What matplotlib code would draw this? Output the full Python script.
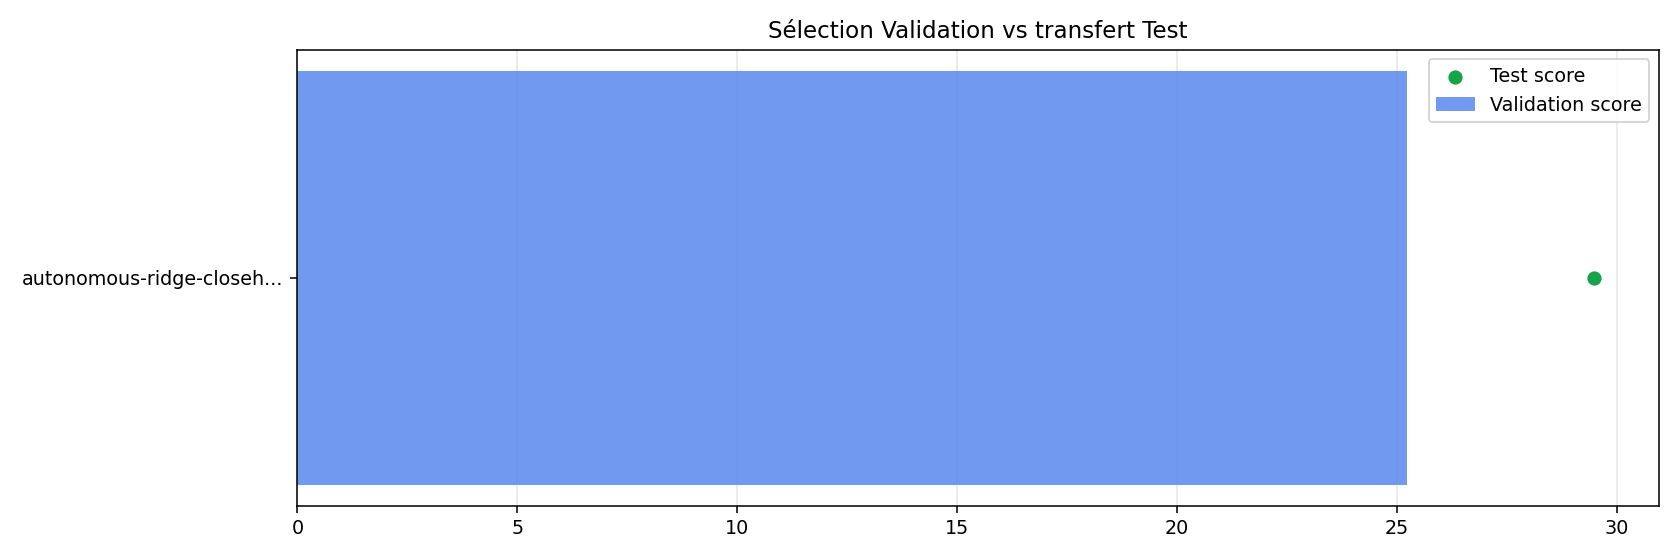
import matplotlib
matplotlib.use("Agg")
import matplotlib.pyplot as plt

labels = ["autonomous-ridge-closeh..."]
validation_scores = [25.23]
test_scores = [29.49]

plt.rcParams["font.size"] = 9.85

fig, ax = plt.subplots(figsize=(12, 4), dpi=140)
fig.subplots_adjust(left=0.177, right=0.9875, top=0.911, bottom=0.097)

ypos = list(range(len(labels)))
bars = ax.barh(ypos, validation_scores, color="#5987ee", alpha=0.85, label="Validation score", zorder=1)
pts = ax.scatter(test_scores, ypos, color="#16a34a", s=40, label="Test score", zorder=3)
ax.set_yticks(ypos)
ax.set_yticklabels(labels)
ax.set_xlim(0, max(max(test_scores), max(validation_scores)) * 1.05)
ax.grid(axis="x", alpha=0.3, zorder=0)
ax.set_axisbelow(True)
ax.set_title("Sélection Validation vs transfert Test")
ax.legend(handles=[pts, bars], loc="upper right")
fig.savefig("out.png", dpi=140)
